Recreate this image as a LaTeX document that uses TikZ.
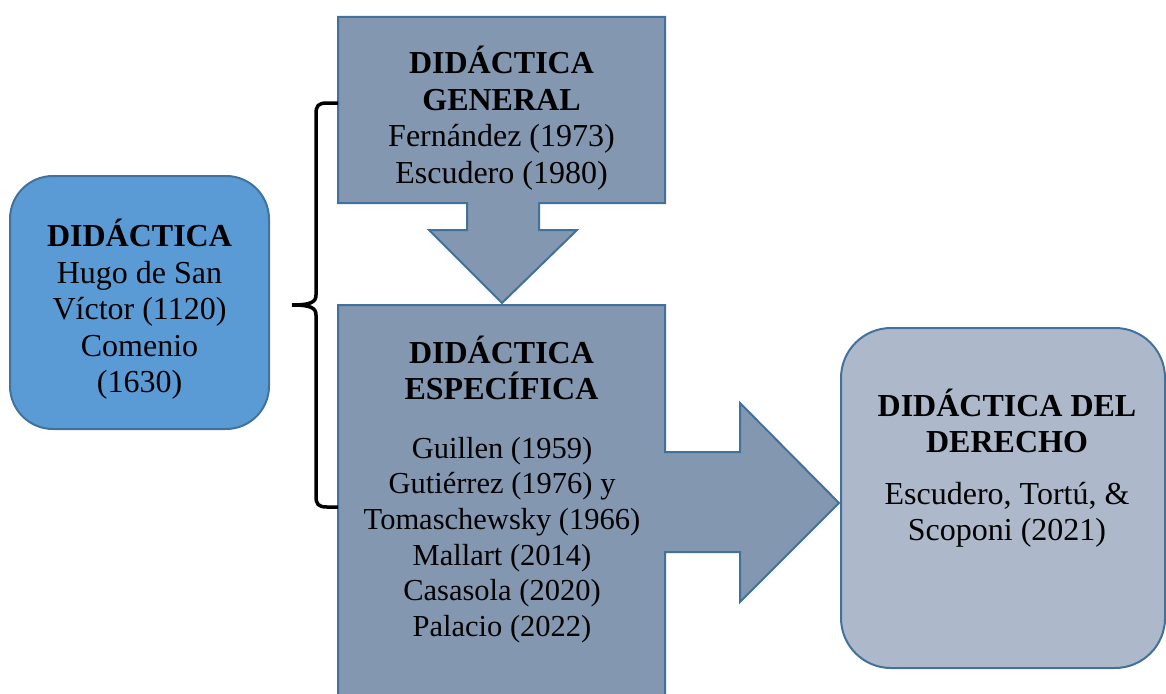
\documentclass[tikz,border=0pt]{standalone}
\usepackage{fontspec}
\setmainfont{Liberation Serif}
\definecolor{lblue}{HTML}{5B9BD5}
\definecolor{midblue}{HTML}{8497B0}
\definecolor{pale}{HTML}{ADB9CA}
\definecolor{edge}{HTML}{41719C}
\begin{document}
\begin{tikzpicture}[x=1pt,y=-1pt,
  txt/.style={align=center, font=\fontsize{32}{36.5}\selectfont, inner sep=0pt},
  smalltxt/.style={align=center, font=\fontsize{30.5}{35.6}\selectfont, inner sep=0pt},
  shp/.style={draw=edge, line width=2pt, line join=miter},
  bracestyle/.style={draw=black, line width=3.5pt}]
\useasboundingbox (0,0) rectangle (1166,693);
\clip (0,0) rectangle (1166,693);
% left box
\node[shp, fill=lblue, rounded corners=43pt, minimum width=259pt, minimum height=253pt, inner sep=0pt] (izq) at (139.5,302.5) {};
\node[txt] (izqtxt) at (139.5,309.5) {\textbf{DIDÁCTICA}\\Hugo de San\\Víctor (1120)\\Comenio\\(1630)};
% top box with down arrow
\draw[shp, fill=midblue] (338,17) -- (665,17) -- (665,203) -- (539,203) -- (539,230) -- (577,230)
  -- (502,303) -- (429,230) -- (467,230) -- (467,203) -- (338,203) -- cycle;
\node[txt] (gen) at (501.5,118) {\textbf{DIDÁCTICA}\\\textbf{GENERAL}\\Fernández (1973)\\Escudero (1980)};
% bottom box with right arrow
\draw[shp, fill=midblue] (338,305) -- (665,305) -- (665,452) -- (740,452) -- (740,403) -- (839,503)
  -- (740,602) -- (740,552) -- (665,552) -- (665,710) -- (338,710) -- cycle;
\node[txt] (esp) at (501.5,368) {\textbf{DIDÁCTICA}\\\textbf{ESPECÍFICA}};
\node[smalltxt] (esplist) at (502,540) {Guillen (1959)\\Gutiérrez (1976) y\\Tomaschewsky (1966)\\Mallart (2014)\\Casasola (2020)\\Palacio (2022)};
% right box
\node[shp, fill=pale, rounded corners=50pt, minimum width=324pt, minimum height=340pt, inner sep=0pt] (der) at (1003,498) {};
\node[txt] (dertit) at (1007,421) {\textbf{DIDÁCTICA DEL}\\\textbf{DERECHO}};
\node[txt] (dertxt) at (1007,515) {Escudero, Tortú, \&\\Scoponi (2021)};
% brace
\coordinate (btop) at (338,103);
\coordinate (btip) at (292,305);
\coordinate (bbot) at (338,507);
\draw[bracestyle] (btop) -- (327,103) .. controls (318,103) and (316,106) .. (316,114)
  -- (316,295) .. controls (316,302) and (311,305) .. (btip);
\draw[bracestyle] (btip) .. controls (311,305) and (316,308) .. (316,315)
  -- (316,496) .. controls (316,504) and (318,507) .. (327,507) -- (bbot);
\end{tikzpicture}
\end{document}
